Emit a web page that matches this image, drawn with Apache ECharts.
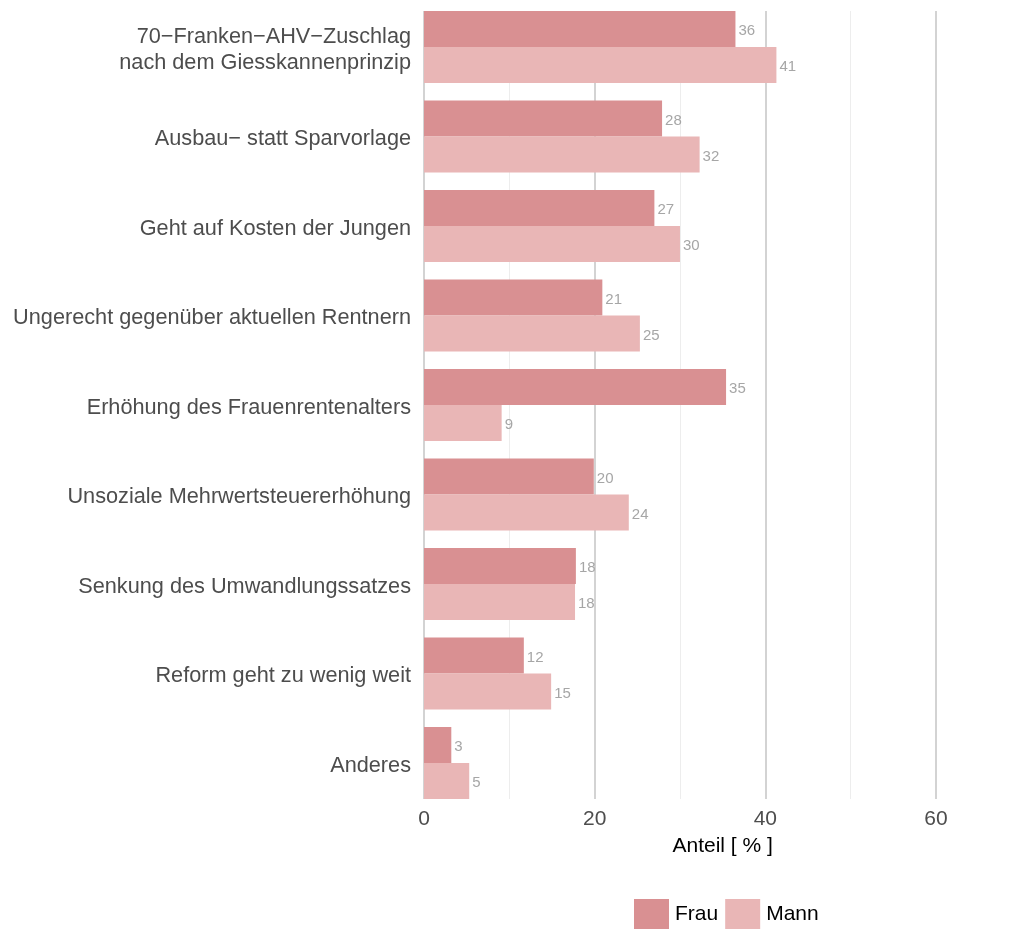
<!DOCTYPE html>
<html><head><meta charset="utf-8">
<script src="https://cdn.jsdelivr.net/npm/echarts@6/dist/echarts.min.js"></script>
<style>html,body{margin:0;padding:0;background:#fff;overflow:hidden}#c{width:1040px;height:930px}</style>
</head><body><div id="c"></div>
<script>
const categories = ["70−Franken−AHV−Zuschlag\nnach dem Giesskannenprinzip","Ausbau− statt Sparvorlage","Geht auf Kosten der Jungen","Ungerecht gegenüber aktuellen Rentnern","Erhöhung des Frauenrentenalters","Unsoziale Mehrwertsteuererhöhung","Senkung des Umwandlungssatzes","Reform geht zu wenig weit","Anderes"];
const frau = [36.5, 27.9, 27.0, 20.9, 35.4, 19.9, 17.8, 11.7, 3.2];
const mann = [41.3, 32.3, 30.0, 25.3, 9.1, 24.0, 17.7, 14.9, 5.3];
const seriesNames = ["Frau","Mann"];
const xTicks = [0, 20, 40, 60];

const font = "Liberation Sans, Arial, sans-serif";
const chart = echarts.init(document.getElementById('c'), null, {renderer:'canvas'});
const lbl = {show:true, position:'right', distance:3, offset:[0,2], color:'#a6a6a6', fontSize:15, fontFamily:font,
  formatter:p=>String(Math.round(p.value - 0.01))};
chart.setOption({
  animation:false,
  grid:[
    {left:424, width:597.3, top:2.25, height:805.5, containLabel:false},
    {left:424, width:597.3, top:11, height:788, containLabel:false},
    {left:424, width:597.3, top:5.25, height:805.5, containLabel:false}
  ],
  xAxis:[
    {gridIndex:0, type:'value', min:0, max:70, interval:20,
     axisLine:{show:false}, axisTick:{show:false}, splitLine:{show:false},
     axisLabel:{show:false}},
    {gridIndex:1, type:'value', min:0, max:70, interval:20,
     axisLine:{show:false}, axisTick:{show:false},
     splitLine:{show:true, lineStyle:{color:'#d3d3d3', width:2}},
     minorTick:{show:false, splitNumber:2},
     minorSplitLine:{show:true, lineStyle:{color:'#ededed', width:1}},
     axisLabel:{show:true, color:'#4d4d4d', fontSize:21, fontFamily:font, margin:10,
       formatter:v=>xTicks.includes(v)?String(v):''},
     name:'Anteil [ % ]', nameLocation:'middle', nameGap:37,
     nameTextStyle:{color:'#000', fontSize:21, fontFamily:font, verticalAlign:'top'}},
    {gridIndex:2, type:'value', min:0, max:70, show:false}
  ],
  yAxis:[
    {gridIndex:0, type:'category', data:categories, inverse:true, show:false},
    {gridIndex:1, type:'category', data:categories, show:false},
    {gridIndex:2, type:'category', data:categories, inverse:true,
     axisLine:{show:false}, axisTick:{show:false}, splitLine:{show:false},
     axisLabel:{color:'#4d4d4d', fontSize:21.7, fontFamily:font, margin:13, lineHeight:26, align:'right'}}
  ],
  legend:{left:634, top:899, padding:0, itemWidth:35, itemHeight:30, itemGap:7,
    icon:'rect', data:seriesNames,
    textStyle:{color:'#000', fontSize:21, fontFamily:font, padding:[0,0,0,1]}},
  series:[
    {name:seriesNames[0], type:'bar', data:frau, barGap:'0%', barCategoryGap:'19.55%',
     itemStyle:{color:'#d99092'}, label:lbl, xAxisIndex:0, yAxisIndex:0},
    {name:seriesNames[1], type:'bar', data:mann, barGap:'0%', barCategoryGap:'19.55%',
     itemStyle:{color:'#e9b6b6'}, label:lbl, xAxisIndex:0, yAxisIndex:0}
  ]
});
</script></body></html>
